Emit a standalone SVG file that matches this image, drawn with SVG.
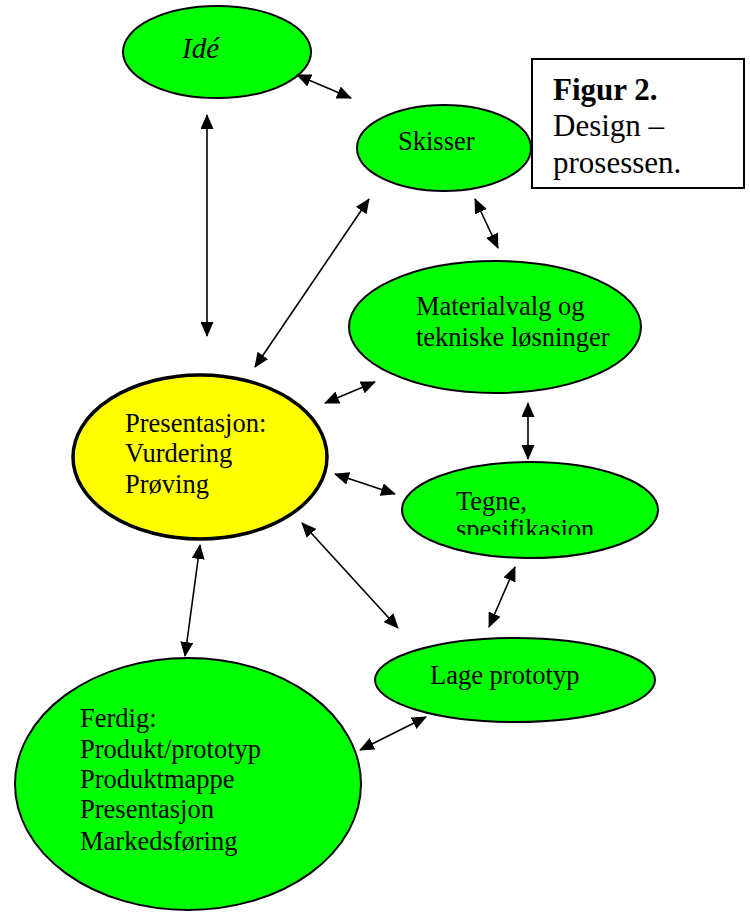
<svg xmlns="http://www.w3.org/2000/svg" width="750" height="912" viewBox="0 0 750 912">
<style>
  .node { fill: #00ff00; stroke: #000; stroke-width: 2; }
  .yellow { fill: #ffff00; stroke: #000; stroke-width: 3.5; }
  .t { font-family: "Liberation Serif", "Times New Roman", serif; font-size: 26.5px; fill: #000; }
  .conn line { stroke: #000; stroke-width: 1.6; marker-start: url(#ah); marker-end: url(#ah); }
</style>
<defs>
  <marker id="ah" viewBox="0 0 15 13" refX="14" refY="6.5" markerWidth="15" markerHeight="13" markerUnits="userSpaceOnUse" orient="auto-start-reverse">
    <path d="M0,0 L15,6.5 L0,13 z" fill="#000"/>
  </marker>
  <clipPath id="tegneClip"><rect x="400" y="460" width="260" height="75"/></clipPath>
</defs>
<rect width="750" height="912" fill="#fff"/>

<g id="figur">
  <rect x="532" y="59" width="212" height="129" fill="#fff" stroke="#000" stroke-width="2"/>
  <text x="553" y="100" style="font-family:'Liberation Serif','Times New Roman',serif;font-size:31px;font-weight:bold">Figur 2.</text>
  <text x="553" y="136" style="font-family:'Liberation Serif','Times New Roman',serif;font-size:31px">Design –</text>
  <text x="553" y="173" style="font-family:'Liberation Serif','Times New Roman',serif;font-size:31px">prosessen.</text>
</g>

<g id="ide">
  <ellipse class="node" cx="217" cy="52" rx="94" ry="46"/>
  <text x="182" y="58" style="font-family:'Liberation Serif','Times New Roman',serif;font-size:29px;font-style:italic">Idé</text>
</g>

<g id="skisser">
  <ellipse class="node" cx="444" cy="148" rx="87" ry="43"/>
  <text class="t" x="398" y="150">Skisser</text>
</g>

<g id="materialvalg">
  <ellipse class="node" cx="495" cy="327" rx="146" ry="66"/>
  <text class="t" x="416" y="315">Materialvalg og</text>
  <text class="t" x="416" y="346">tekniske løsninger</text>
</g>

<g id="presentasjon">
  <ellipse class="yellow" cx="200" cy="457" rx="127" ry="82"/>
  <text class="t" x="125" y="432">Presentasjon:</text>
  <text class="t" x="125" y="462">Vurdering</text>
  <text class="t" x="125" y="493">Prøving</text>
</g>

<g id="tegne">
  <ellipse class="node" cx="530" cy="510" rx="128" ry="48"/>
  <g clip-path="url(#tegneClip)">
    <text class="t" x="456" y="510">Tegne,</text>
    <text class="t" x="456" y="538">spesifikasjon</text>
  </g>
</g>

<g id="lage">
  <ellipse class="node" cx="515" cy="680" rx="140" ry="42"/>
  <text class="t" x="430" y="684">Lage prototyp</text>
</g>

<g id="ferdig">
  <ellipse class="node" cx="188" cy="784" rx="173" ry="126"/>
  <text class="t" x="80" y="727">Ferdig:</text>
  <text class="t" x="80" y="758">Produkt/prototyp</text>
  <text class="t" x="80" y="788">Produktmappe</text>
  <text class="t" x="80" y="818">Presentasjon</text>
  <text class="t" x="80" y="850">Markedsføring</text>
</g>

<g id="connectors" class="conn">
  <line x1="297" y1="75" x2="351" y2="98"/>
  <line x1="207" y1="115" x2="207" y2="336"/>
  <line x1="369" y1="199" x2="255" y2="367"/>
  <line x1="475" y1="199" x2="498" y2="248"/>
  <line x1="325" y1="403" x2="375" y2="382"/>
  <line x1="528" y1="403" x2="528" y2="459"/>
  <line x1="335" y1="474" x2="395" y2="494"/>
  <line x1="302" y1="523" x2="398" y2="628"/>
  <line x1="515" y1="567" x2="489" y2="627"/>
  <line x1="426" y1="717" x2="360" y2="750"/>
  <line x1="200" y1="545" x2="185" y2="656"/>
</g>
</svg>
